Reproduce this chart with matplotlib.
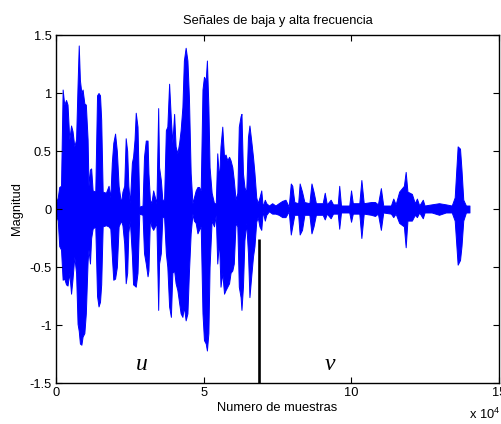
import matplotlib
matplotlib.use("Agg")
import matplotlib.pyplot as plt
import numpy as np

plt.rcParams['font.family'] = ['Liberation Sans', 'DejaVu Sans']

# Signal envelope (x in units of 10^4 samples)
env_x = [0.00, 0.06, 0.11, 0.17, 0.225, 0.28, 0.34, 0.39, 0.45, 0.51, 0.56, 0.62, 0.68, 0.73, 0.77,
         0.81, 0.86, 0.90, 0.96, 1.01, 1.07, 1.10, 1.15, 1.19, 1.24, 1.33, 1.39, 1.44, 1.49, 1.53,
         1.58, 1.69, 1.78, 1.84, 1.89, 1.94, 2.00, 2.06, 2.12, 2.20, 2.25, 2.31, 2.36, 2.41, 2.45,
         2.50, 2.57, 2.61, 2.66, 2.70, 2.76, 2.82, 2.93, 2.98, 3.04, 3.10, 3.13, 3.18, 3.23, 3.29,
         3.35, 3.40, 3.46, 3.49, 3.55, 3.60, 3.66, 3.72, 3.77, 3.83, 3.89, 3.94, 4.00, 4.05, 4.11,
         4.17, 4.22, 4.28, 4.33, 4.39, 4.45, 4.50, 4.56, 4.62, 4.67, 4.73, 4.79, 4.84, 4.90, 4.96,
         5.01, 5.07, 5.11, 5.16, 5.20, 5.27, 5.35, 5.41, 5.46, 5.52, 5.57, 5.63, 5.69, 5.74, 5.80,
         5.86, 5.91, 5.97, 6.02, 6.08, 6.14, 6.19, 6.25, 6.28, 6.33, 6.38, 6.44, 6.50, 6.55, 6.61,
         6.67, 6.72, 6.78, 6.83, 6.89, 6.95, 7.00, 7.07, 7.12, 7.21, 7.32, 7.43, 7.54, 7.66, 7.77,
         7.88, 7.95, 8.00, 8.07, 8.20, 8.25, 8.33, 8.41, 8.58, 8.65, 8.72, 8.80, 9.03, 9.10, 9.17,
         9.30, 9.38, 9.54, 9.59, 9.65, 9.93, 9.99, 10.05, 10.27, 10.34, 10.42, 10.67, 10.80, 10.90, 11.00,
         11.08, 11.34, 11.42, 11.50, 11.62, 11.78, 11.84, 11.90, 12.05, 12.15, 12.22, 12.30, 12.42, 12.48, 12.72,
         12.97, 13.20, 13.40, 13.50, 13.60, 13.68, 13.73, 13.79, 13.88, 14.00]
env_top = [0.05, 0.10, 0.19, 0.20, 1.03, 0.90, 0.94, 0.90, 0.60, 0.72, 0.67, 0.54, 0.60, 1.07, 1.41,
           1.11, 1.00, 1.03, 0.91, 0.90, 0.60, 0.20, 0.34, 0.35, 0.16, 0.15, 0.98, 1.00, 0.98, 0.77,
           0.15, 0.14, 0.20, 0.10, 0.40, 0.57, 0.65, 0.50, 0.20, 0.05, 0.15, 0.20, 0.61, 0.50, 0.20,
           0.05, 0.40, 0.45, 0.60, 0.83, 0.71, 0.02, 0.03, 0.45, 0.59, 0.59, 0.31, 0.08, 0.05, 0.16,
           0.10, 0.05, 0.87, 0.36, 0.25, 0.08, 0.08, 0.68, 0.71, 1.08, 0.77, 0.57, 0.82, 0.54, 0.48,
           0.57, 0.68, 0.88, 1.28, 1.39, 1.28, 0.97, 0.31, 0.05, 0.10, 0.16, 0.19, 0.19, 0.16, 1.03,
           1.14, 1.11, 1.28, 0.88, 0.36, 0.14, 0.05, 0.05, 0.48, 0.25, 0.54, 0.71, 0.45, 0.47, 0.42,
           0.45, 0.42, 0.36, 0.25, 0.08, 0.14, 0.71, 0.80, 0.82, 0.31, 0.19, 0.14, 0.62, 0.72, 0.59,
           0.45, 0.31, 0.10, 0.05, 0.10, 0.16, 0.02, 0.08, 0.05, 0.03, 0.05, 0.03, 0.05, 0.07, 0.08,
           0.02, 0.22, 0.20, 0.06, 0.05, 0.22, 0.15, 0.06, 0.05, 0.22, 0.15, 0.05, 0.05, 0.14, 0.04,
           0.08, 0.04, 0.04, 0.20, 0.03, 0.03, 0.16, 0.05, 0.05, 0.25, 0.05, 0.06, 0.06, 0.04, 0.18,
           0.03, 0.03, 0.09, 0.04, 0.15, 0.20, 0.32, 0.15, 0.13, 0.05, 0.09, 0.03, 0.08, 0.03, 0.04,
           0.05, 0.04, 0.03, 0.10, 0.54, 0.52, 0.34, 0.08, 0.03, 0.03]
env_bot = [-0.05, -0.10, -0.32, -0.35, -0.61, -0.60, -0.65, -0.66, -0.55, -0.73, -0.60, -0.41, -0.55, -0.99, -1.05,
           -1.16, -1.17, -1.10, -1.07, -0.90, -0.45, -0.35, -0.47, -0.25, -0.17, -0.15, -0.75, -0.84, -0.80, -0.65,
           -0.15, -0.14, -0.15, -0.17, -0.40, -0.61, -0.60, -0.50, -0.15, -0.10, -0.14, -0.30, -0.64, -0.55, -0.20,
           -0.10, -0.40, -0.65, -0.66, -0.67, -0.55, -0.04, -0.05, -0.38, -0.47, -0.58, -0.53, -0.08, -0.15, -0.18,
           -0.15, -0.12, -0.87, -0.47, -0.38, -0.07, -0.07, -0.38, -0.50, -0.84, -0.93, -0.55, -0.53, -0.64, -0.70,
           -0.81, -0.90, -0.93, -0.84, -0.96, -0.90, -0.55, -0.21, -0.04, -0.10, -0.12, -0.21, -0.18, -0.15, -0.90,
           -1.13, -1.16, -1.22, -1.07, -0.50, -0.10, -0.15, -0.05, -0.47, -0.27, -0.67, -0.55, -0.73, -0.70, -0.67,
           -0.64, -0.55, -0.53, -0.47, -0.12, -0.15, -0.67, -0.76, -0.87, -0.67, -0.27, -0.12, -0.38, -0.76, -0.58,
           -0.41, -0.32, -0.11, -0.07, -0.15, -0.18, -0.02, -0.10, -0.05, -0.02, -0.04, -0.04, -0.05, -0.07, -0.07,
           -0.02, -0.22, -0.15, -0.05, -0.05, -0.22, -0.18, -0.05, -0.05, -0.21, -0.15, -0.05, -0.05, -0.09, -0.04,
           -0.08, -0.04, -0.04, -0.17, -0.03, -0.03, -0.11, -0.04, -0.04, -0.25, -0.04, -0.05, -0.06, -0.04, -0.18,
           -0.03, -0.04, -0.07, -0.04, -0.12, -0.15, -0.33, -0.10, -0.10, -0.05, -0.07, -0.03, -0.08, -0.03, -0.03,
           -0.05, -0.03, -0.03, -0.10, -0.48, -0.44, -0.32, -0.10, -0.03, -0.03]

split_x = 6.87          # boundary between u and v (x 10^4 samples)
split_top = -0.26
seg_labels = ['u', 'v']
seg_label_x = [2.9, 9.26]
seg_label_y = [-1.34, -1.34]

xticks = [0, 5, 10, 15]
yticks = [-1.5, -1, -0.5, 0, 0.5, 1, 1.5]
ytick_labels = ['-1.5', '-1', '-0.5', '0', '0.5', '1', '1.5']

title = 'Señales de baja y alta frecuencia'
xlabel = 'Numero de muestras'
ylabel = 'Magnitud'

scale = 1e4
fs = 9.3
fig = plt.figure(figsize=(5.01, 4.24), dpi=100)
ax = fig.add_axes([56 / 501, 41 / 424, 443 / 501, 348 / 424])

xs = np.array(env_x) * scale
ax.fill_between(xs, env_bot, env_top, color='#0000ff', linewidth=0.7, edgecolor='#0000ff')

ax.vlines(split_x * scale, -1.5, split_top, color='black', linewidth=1.9, zorder=5)

for lab, lx, ly in zip(seg_labels, seg_label_x, seg_label_y):
    ax.text(lx * scale, ly, lab, fontsize=17, family='Liberation Serif', style='italic',
            ha='center', va='center')

ax.set_xlim(0, 15 * scale)
ax.set_ylim(-1.5, 1.5)
ax.set_xticks([t * scale for t in xticks])
ax.set_xticklabels([str(t) for t in xticks])
ax.set_yticks(yticks)
ax.set_yticklabels(ytick_labels)
ax.tick_params(direction='in', length=4, width=0.8, labelsize=fs, top=True, right=True, pad=3)
for s in ax.spines.values():
    s.set_linewidth(1.0)

ax.set_title(title, fontsize=fs, pad=8)
ax.set_xlabel(xlabel, fontsize=fs, labelpad=2)
ax.set_ylabel(ylabel, fontsize=fs, labelpad=5)

fig.text(500 / 501, 2 / 424, r'x 10$^{\mathregular{4}}$', fontsize=fs, ha='right', va='bottom')

fig.savefig('out.png', dpi=100)
